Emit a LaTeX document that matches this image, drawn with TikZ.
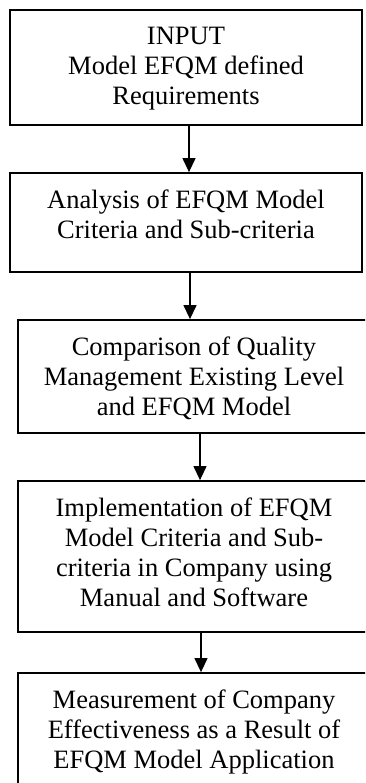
\documentclass[tikz,border=0pt]{standalone}
\usepackage{fontspec}
\setmainfont{Liberation Serif}
\usetikzlibrary{arrows.meta,positioning}
\begin{document}
\begin{tikzpicture}[x=1pt,y=-1pt,
  box/.style={draw=black,line width=1.8pt,rectangle,inner sep=0pt,minimum width=352pt},
  txt/.style={inner sep=0pt,align=center,font=\fontsize{26.5pt}{30pt}\selectfont},
  arr/.style={line width=1.3pt,-{Triangle[length=14pt,width=13pt]}}]
\useasboundingbox (0,0) rectangle (365,783);
\clip (0,0) rectangle (365,783);
\node[box,minimum height=115pt] (b1) at (186,67.5) {};
\node[box,minimum height=99pt]  (b2) at (186,222.5) {};
\node[box,minimum height=113pt] (b3) at (194,376.5) {};
\node[box,minimum height=151pt] (b4) at (194,556.5) {};
\node[box,minimum height=115pt] (b5) at (194,730.5) {};
\node[txt,below=18pt of b1.north] (t1) {INPUT\\Model EFQM defined\\Requirements};
\node[txt,below=18pt of b2.north] (t2) {Analysis of EFQM Model\\Criteria and Sub-criteria};
\node[txt,below=18pt of b3.north] (t3) {Comparison of Quality\\Management Existing Level\\and EFQM Model};
\node[txt,below=18pt of b4.north] (t4) {Implementation of EFQM\\Model Criteria and Sub-\\criteria in Company using\\Manual and Software};
\node[txt,below=18pt of b5.north] (t5) {Measurement of Company\\Effectiveness as a Result of\\EFQM Model Application};
\coordinate (c1) at (189,0);
\coordinate (c2) at (190,0);
\coordinate (c3) at (200,0);
\coordinate (c4) at (201,0);
\draw[arr] (b1.south -| c1) -- (b2.north -| c1);
\draw[arr] (b2.south -| c2) -- (b3.north -| c2);
\draw[arr] (b3.south -| c3) -- (b4.north -| c3);
\draw[arr] (b4.south -| c4) -- (b5.north -| c4);
\end{tikzpicture}
\end{document}
